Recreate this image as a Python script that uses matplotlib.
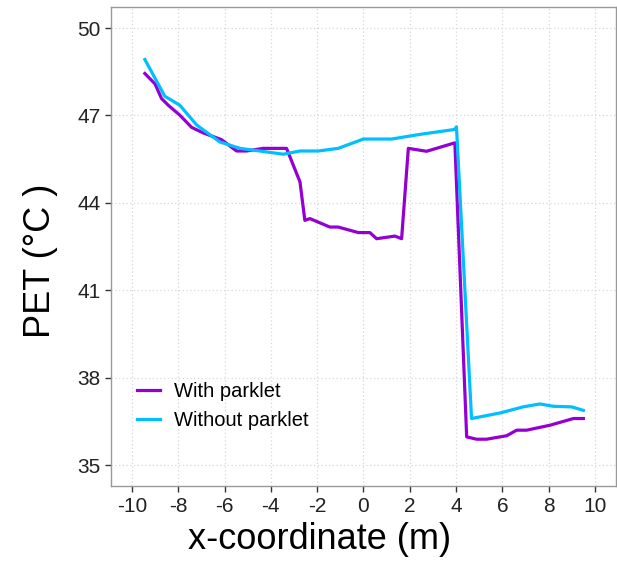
import matplotlib.pyplot as plt
import numpy as np

plt.rcParams['font.family'] = ['Liberation Sans', 'DejaVu Sans']
plt.rcParams['axes.unicode_minus'] = False

# With parklet
x_with = [-9.44, -9.0, -8.72, -8.43, -7.93, -7.42, -6.92, -6.13, -5.48, -5.05,
          -4.33, -3.32, -2.74, -2.53, -2.31, -1.45, -1.09, -0.22, 0.28, 0.57,
          1.36, 1.65, 1.94, 2.73, 3.95, 4.46, 4.89, 5.32, 6.19, 6.62,
          7.05, 8.06, 9.07, 9.5]
pet_with = [48.44, 48.08, 47.58, 47.35, 47.01, 46.59, 46.40, 46.17, 45.78, 45.78,
            45.87, 45.87, 44.72, 43.40, 43.46, 43.17, 43.17, 42.98, 42.98, 42.77,
            42.86, 42.77, 45.87, 45.77, 46.06, 35.97, 35.89, 35.89, 36.01, 36.20,
            36.20, 36.37, 36.60, 36.60]

# Without parklet
x_without = [-9.44, -8.58, -7.93, -7.2, -6.2, -5.33, -3.46, -2.74, -1.95, -1.09,
             0.0, 1.22, 2.44, 3.95, 4.02, 4.67, 5.90, 6.9, 7.62, 8.2,
             8.99, 9.5]
pet_without = [48.92, 47.66, 47.35, 46.67, 46.09, 45.87, 45.67, 45.78, 45.78, 45.87,
               46.19, 46.19, 46.35, 46.52, 46.61, 36.60, 36.79, 37.0, 37.10, 37.02,
               37.0, 36.88]

x_ticks = [-10, -8, -6, -4, -2, 0, 2, 4, 6, 8, 10]
y_ticks = [35, 38, 41, 44, 47, 50]

fig = plt.figure(figsize=(6.17, 5.62), dpi=100)
ax = fig.add_axes([0.18, 0.135, 0.818, 0.8525])

ax.plot(x_with, pet_with, color='#9400D3', linewidth=2.3, label='With parklet')
ax.plot(x_without, pet_without, color='#00BFFF', linewidth=2.3, label='Without parklet')

ax.set_xlim(-10.9, 10.9)
ax.set_ylim(34.28, 50.72)
ax.set_xticks(x_ticks)
ax.set_yticks(y_ticks)
ax.grid(True, color='#d8d8d8', linestyle=(0, (1, 2)), linewidth=0.9)
ax.set_axisbelow(True)

for s in ax.spines.values():
    s.set_color('#999999')
    s.set_linewidth(1.0)
ax.tick_params(labelsize=15, colors='#333333', length=4, width=1.0)
ax.tick_params(labelcolor='#222222')

ax.set_xlabel('x-coordinate (m)', fontsize=26)
ax.xaxis.set_label_coords(0.414, -0.075)
ax.set_ylabel('PET (°C )', fontsize=26)
ax.yaxis.set_label_coords(-0.105, 0.47)

ax.legend(loc='lower left', bbox_to_anchor=(0.016, 0.08), frameon=False,
          fontsize=14.5, handlelength=1.15, handletextpad=0.65, labelspacing=0.5)

fig.savefig('out.png', dpi=100)
